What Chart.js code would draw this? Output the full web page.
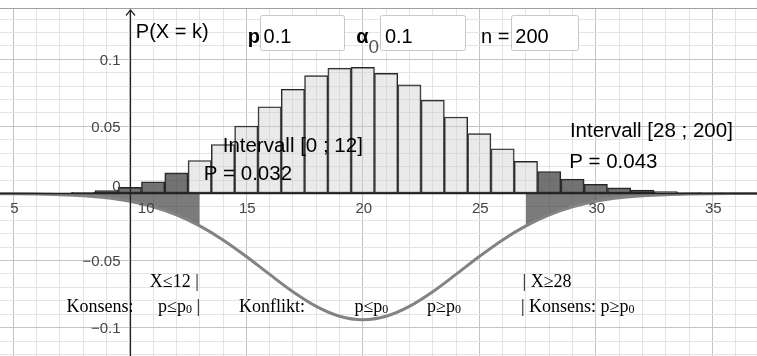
<!DOCTYPE html>
<html>
<head>
<meta charset="utf-8">
<script src="https://cdn.jsdelivr.net/npm/chart.js@4.4.1/dist/chart.umd.min.js"></script>
<style>
html,body{margin:0;padding:0;background:#fff;}
canvas{display:block;}
</style>
</head>
<body>
<canvas id="c" width="757" height="356"></canvas>
<script>
// ---------- data ----------
const kValues = [4,5,6,7,8,9,10,11,12,13,14,15,16,17,18,19,20,21,22,23,24,25,26,27,28,29,30,31,32,33,34,35,36,37];
const probabilities = [0.00001,0.00003,0.00011,0.00034,0.00091,0.00215,0.00456,0.00874,0.01530,0.02459,0.03650,0.05028,0.06460,0.07769,0.08776,0.09341,0.09393,0.08946,0.08087,0.06954,0.05699,0.04458,0.03334,0.02387,0.01639,0.01080,0.00684,0.00417,0.00245,0.00138,0.00075,0.00040,0.00020,0.00010];
const lowerCritical = 12;   // Intervall [0 ; 12]
const upperCritical = 28;   // Intervall [28 ; 200]
const lowerProb = '0.032';
const upperProb = '0.043';
const curveX = [4,5,6,7,8,9,10,11,12,13,14,15,16,17,18,19,20,21,22,23,24,25,26,27,28,29,30,31,32,33,34,35,36,37];
const curveY = [-0.00008,-0.00018,-0.00041,-0.00086,-0.00172,-0.00326,-0.00585,-0.00991,-0.01589,-0.02411,-0.03459,-0.04695,-0.06029,-0.07323,-0.08414,-0.09145,-0.09403,-0.09145,-0.08414,-0.07323,-0.06029,-0.04695,-0.03459,-0.02411,-0.01589,-0.00991,-0.00585,-0.00326,-0.00172,-0.00086,-0.00041,-0.00018,-0.00008,-0.00003];
const shadeLeftEnd = 13;
const shadeRightStart = 27;
const xTickValues = [5,10,15,20,25,30,35];
const yTickValues = [0.1,0.05,0,-0.05,-0.1];
const yTickLabels = ['0.1','0.05','0','\u22120.05','\u22120.1'];
const paramP = '0.1';
const paramAlpha = '0.1';
const paramN = '200';
const yAxisCrossing = 10;

// ---------- derived ----------
const barPoints = kValues.map((k, i) => ({x: k, y: probabilities[i]}));
const curvePoints = curveX.map((x, i) => ({x, y: curveY[i]}));
const leftShade = curvePoints.filter(p => p.x <= shadeLeftEnd);
const rightShade = curvePoints.filter(p => p.x >= shadeRightStart);
const isTail = k => k <= lowerCritical || k >= upperCritical;

const SANS = "'Liberation Sans', Arial, sans-serif";
const SERIF = "'Liberation Serif', 'Times New Roman', serif";

function range(a, b) { const r = []; for (let i = a; i <= b; i++) r.push(i); return r; }

const texts = [
  {x: 10.257, y: 0.1161, parts: [['P(X = k)']], font: '20px ' + SANS},
  {x: 15.057, y: 0.11215, parts: [['p']], font: 'bold 20px ' + SANS},
  {x: 15.743, y: 0.11215, parts: [[paramP]], font: '20px ' + SANS},
  {x: 19.716, y: 0.11215, parts: [['\u03B1'], ['0', 1]], font: 'bold 20px ' + SANS, subFont: '19px ' + SANS, subDy: 10, subColor: '#555'},
  {x: 20.95, y: 0.11215, parts: [[paramAlpha]], font: '20px ' + SANS},
  {x: 25.073, y: 0.11215, parts: [['n =']], font: '20px ' + SANS},
  {x: 26.543, y: 0.11215, parts: [[paramN]], font: '20px ' + SANS},
  {x: 13.986, y: 0.03115, parts: [['Intervall [0 ; ' + lowerCritical + ']']], font: '20.5px ' + SANS},
  {x: 13.171, y: 0.01006, parts: [['P = ' + lowerProb]], font: '20.5px ' + SANS},
  {x: 28.887, y: 0.04232, parts: [['Intervall [' + upperCritical + ' ; 200]']], font: '20.5px ' + SANS},
  {x: 28.857, y: 0.01878, parts: [['P = ' + upperProb]], font: '20.5px ' + SANS},
  {x: 10.857, y: -0.06945, parts: [['X\u2264' + lowerCritical + ' |']], font: '18px ' + SERIF},
  {x: 7.287, y: -0.08808, parts: [['Konsens:']], font: '18px ' + SERIF},
  {x: 11.213, y: -0.08808, parts: [['p\u2264p'], ['0', 1], [' |']], font: '18px ' + SERIF},
  {x: 14.684, y: -0.08808, parts: [['Konflikt:']], font: '18px ' + SERIF},
  {x: 19.643, y: -0.08808, parts: [['p\u2264p'], ['0', 1]], font: '18px ' + SERIF},
  {x: 22.759, y: -0.08808, parts: [['p\u2265p'], ['0', 1]], font: '18px ' + SERIF},
  {x: 26.856, y: -0.06945, parts: [['| X\u2265' + upperCritical]], font: '18px ' + SERIF},
  {x: 26.787, y: -0.08808, parts: [['| Konsens: p\u2265p'], ['0', 1]], font: '18px ' + SERIF},
];
const boxes = [
  {x1: 15.571, x2: 19.171, y1: 0.13301, y2: 0.1073},
  {x1: 20.757, x2: 24.387, y1: 0.13301, y2: 0.1073},
  {x1: 26.359, x2: 29.243, y1: 0.13301, y2: 0.1073},
];

function drawRich(ctx, px, py, t) {
  let cx = px;
  for (const [s, sub] of t.parts) {
    if (sub) {
      ctx.font = t.subFont || ('12px ' + SERIF);
      ctx.fillStyle = t.subColor || '#000';
      ctx.fillText(s, cx, py + (t.subDy != null ? t.subDy : 1));
    } else {
      ctx.font = t.font;
      ctx.fillStyle = '#000';
      ctx.fillText(s, cx, py);
    }
    cx += ctx.measureText(s).width;
  }
}

const overlay = {
  id: 'overlay',
  afterDatasetsDraw(chart) {
    const {ctx, chartArea: a, scales: {x, y}} = chart;
    ctx.save();
    // top frame line
    ctx.strokeStyle = '#a0a0a0'; ctx.lineWidth = 1;
    ctx.beginPath(); ctx.moveTo(a.left, a.top + 0.5); ctx.lineTo(a.right, a.top + 0.5); ctx.stroke();

    const ax = Math.round(x.getPixelForValue(yAxisCrossing)) + 0.5;
    const ay = y.getPixelForValue(0);
    // x axis
    ctx.strokeStyle = '#222'; ctx.lineWidth = 1.6;
    ctx.beginPath(); ctx.moveTo(a.left, ay); ctx.lineTo(a.right, ay); ctx.stroke();
    // y axis with arrow
    ctx.lineWidth = 1.2;
    ctx.beginPath(); ctx.moveTo(ax, a.top + 2); ctx.lineTo(ax, a.bottom); ctx.stroke();
    ctx.beginPath(); ctx.moveTo(ax - 4.5, a.top + 7.5); ctx.lineTo(ax, a.top + 2); ctx.lineTo(ax + 4.5, a.top + 7.5); ctx.stroke();

    // tick labels
    ctx.fillStyle = '#444';
    ctx.font = '15px ' + SANS;
    ctx.textBaseline = 'alphabetic';
    xTickValues.forEach(v => {
      const px = x.getPixelForValue(v);
      if (v === yAxisCrossing) { ctx.textAlign = 'left'; ctx.fillText(String(v), px + 8, ay + 20); }
      else { ctx.textAlign = 'center'; ctx.fillText(String(v), px + 1, ay + 20); }
    });
    ctx.textAlign = 'right';
    yTickValues.forEach((v, i) => {
      const py = y.getPixelForValue(v);
      ctx.fillText(yTickLabels[i], ax - 10, v === 0 ? py - 2 : py + 5.5);
    });

    // input boxes
    boxes.forEach(b => {
      const x1 = x.getPixelForValue(b.x1), x2 = x.getPixelForValue(b.x2);
      const y1 = y.getPixelForValue(b.y1), y2 = y.getPixelForValue(b.y2);
      ctx.fillStyle = '#fff'; ctx.strokeStyle = '#c8c8c8'; ctx.lineWidth = 1;
      ctx.beginPath();
      ctx.roundRect(Math.round(x1) + 0.5, Math.round(y1) + 0.5, Math.round(x2 - x1), Math.round(y2 - y1), 2);
      ctx.fill(); ctx.stroke();
    });

    // texts
    ctx.textAlign = 'left';
    texts.forEach(t => drawRich(ctx, x.getPixelForValue(t.x), y.getPixelForValue(t.y), t));
    ctx.restore();
  }
};

const gridColorX = c => (c.tick && Math.round(c.tick.value) % 5 === 0) ? '#c4c4c4' : '#e4e4e4';
const gridColorY = c => (c.tick && Math.round(c.tick.value * 100) % 5 === 0) ? '#c4c4c4' : '#e4e4e4';

new Chart(document.getElementById('c'), {
  type: 'line',
  data: {
    datasets: [
      {
        type: 'bar', label: 'P(X = k)', data: barPoints,
        backgroundColor: c => isTail(c.raw ? c.raw.x : 0) ? 'rgba(60,60,60,0.72)' : 'rgba(205,205,205,0.42)',
        borderColor: '#262626', borderWidth: 1, borderSkipped: false,
        barPercentage: 1, categoryPercentage: 1, order: 1
      },
      {
        label: 'Normal', data: curvePoints, borderColor: '#838383', borderWidth: 3,
        pointRadius: 0, cubicInterpolationMode: 'monotone', fill: false, order: 2
      },
      {
        label: 'left', data: leftShade, borderWidth: 0, borderColor: 'rgba(0,0,0,0)', pointRadius: 0,
        cubicInterpolationMode: 'monotone', fill: 'origin', backgroundColor: 'rgba(60,60,60,0.68)', order: 3
      },
      {
        label: 'right', data: rightShade, borderWidth: 0, borderColor: 'rgba(0,0,0,0)', pointRadius: 0,
        cubicInterpolationMode: 'monotone', fill: 'origin', backgroundColor: 'rgba(60,60,60,0.68)', order: 3
      }
    ]
  },
  options: {
    responsive: false, animation: false, devicePixelRatio: 1,
    layout: {padding: {top: 8, left: 0, right: 0, bottom: 0}},
    plugins: {legend: {display: false}, tooltip: {enabled: false}},
    scales: {
      x: {
        type: 'linear', min: 4.429, max: 36.918, offset: false,
        afterBuildTicks: s => { s.ticks = range(5, 36).map(v => ({value: v})); },
        ticks: {display: false},
        grid: {drawTicks: false, offset: false, color: gridColorX, lineWidth: 1},
        border: {display: false}
      },
      y: {
        type: 'linear', min: -0.1211, max: 0.1382,
        afterBuildTicks: s => { s.ticks = range(-12, 13).map(v => ({value: v / 100})); },
        ticks: {display: false},
        grid: {drawTicks: false, color: gridColorY, lineWidth: 1},
        border: {display: false}
      }
    }
  },
  plugins: [overlay]
});
</script>
</body>
</html>
